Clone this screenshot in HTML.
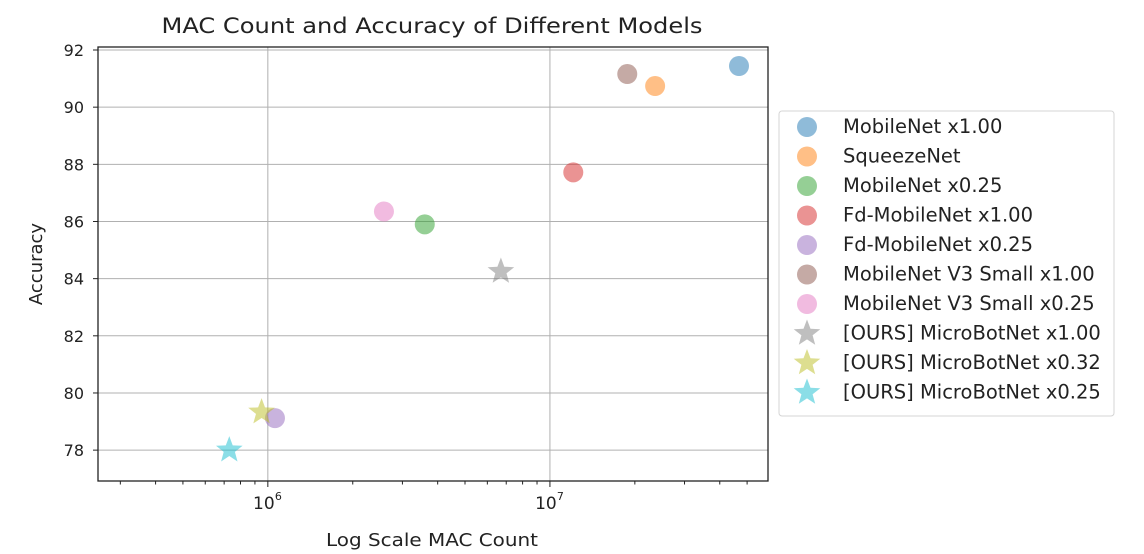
<!DOCTYPE html>
<html><head><meta charset="utf-8"><style>
body{margin:0;background:#fff;}
svg{display:block;font-family:"DejaVu Sans","Liberation Sans",sans-serif;}
</style></head><body>
<svg id="chart" width="1144" height="554">
<text x="432" y="33" font-size="21" textLength="541" lengthAdjust="spacingAndGlyphs" text-anchor="middle" fill="#222">MAC Count and Accuracy of Different Models</text>
<text x="432" y="546" font-size="18" textLength="212" lengthAdjust="spacingAndGlyphs" text-anchor="middle" fill="#222">Log Scale MAC Count</text>
<text transform="translate(42,264) rotate(-90)" font-size="18" text-anchor="middle" fill="#222">Accuracy</text>
<g id="grid"></g><g id="marks"></g><g id="axes"></g><g id="legend"></g>
</svg>
<script>
const names=["MobileNet x1.00","SqueezeNet","MobileNet x0.25","Fd-MobileNet x1.00","Fd-MobileNet x0.25","MobileNet V3 Small x1.00","MobileNet V3 Small x0.25","[OURS] MicroBotNet x1.00","[OURS] MicroBotNet x0.32","[OURS] MicroBotNet x0.25"];
const macs=[4.68e7,2.36e7,3.6e6,1.21e7,1.06e6,1.88e7,2.58e6,6.7e6,9.5e5,7.3e5];
const accuracy=[91.44,90.74,85.9,87.72,79.12,91.16,86.35,84.25,79.33,78.0];
const markers=["o","o","o","o","o","o","o","*","*","*"];
const colors=["#1f77b4","#ff7f0e","#2ca02c","#d62728","#9467bd","#8c564b","#e377c2","#7f7f7f","#bcbd22","#17becf"];
const yTicks=[78,80,82,84,86,88,90,92];
const xMajor=[1e6,1e7];
const xMajorLabels=[["10","6"],["10","7"]];

const L=98,R=768,T=47,B=481;
const xmin=Math.log10(2.5e5),xmax=Math.log10(5.93e7);
const ymin=76.92,ymax=92.105;
const X=v=>L+(Math.log10(v)-xmin)/(xmax-xmin)*(R-L);
const Y=v=>B-(v-ymin)/(ymax-ymin)*(B-T);
const NS="http://www.w3.org/2000/svg";
function mk(tag,attrs,parent){const e=document.createElementNS(NS,tag);for(const k in attrs)e.setAttribute(k,attrs[k]);parent.appendChild(e);return e;}
const grid=document.getElementById('grid'),axes=document.getElementById('axes'),marks=document.getElementById('marks'),leg=document.getElementById('legend');
function star(cx,cy,r){let p=[];for(let i=0;i<10;i++){const a=-Math.PI/2+i*Math.PI/5;const rr=i%2?r*0.42:r;p.push((cx+rr*Math.cos(a)).toFixed(1)+","+(cy+rr*Math.sin(a)).toFixed(1));}return p.join(" ");}
yTicks.forEach(t=>{const y=Y(t);
 const g=mk('line',{x1:L,x2:R,y1:y,y2:y,stroke:'#b0b0b0','stroke-width':1},grid);
 
 mk('line',{x1:L-5,x2:L,y1:y,y2:y,stroke:'#222','stroke-width':1},axes);
 const tx=mk('text',{x:L-14,y:y+6,'font-size':16,'text-anchor':'end',fill:'#222'},axes);tx.textContent=t;
 
});
xMajor.forEach((t,i)=>{const x=X(t);
 const g=mk('line',{x1:x,x2:x,y1:T,y2:B,stroke:'#b0b0b0','stroke-width':1},grid);
 
 mk('line',{x1:x,x2:x,y1:B,y2:B+6,stroke:'#222','stroke-width':1},axes);
 const tx=mk('text',{x:x-4,y:B+28,'font-size':17,'text-anchor':'middle',fill:'#222'},axes);
 tx.textContent=xMajorLabels[i][0];
 
 const sp=mk('text',{x:x+7,y:B+19,'font-size':11,fill:'#222'},axes);sp.textContent=xMajorLabels[i][1];
});
for(let d=5;d<=7;d++)for(let m=2;m<=9;m++){const v=m*Math.pow(10,d);const x=X(v);if(x<L||x>R)continue;mk('line',{x1:x,x2:x,y1:B,y2:B+3.5,stroke:'#222','stroke-width':1},axes);}
const fr=mk('rect',{x:L,y:T,width:R-L,height:B-T,fill:'none',stroke:'#222','stroke-width':1.3},axes);

macs.forEach((v,i)=>{const x=X(v),y=Y(accuracy[i]);let e;
 if(markers[i]==="o")e=mk('circle',{cx:x,cy:y,r:10,fill:colors[i],'fill-opacity':0.5},marks);
 else e=mk('polygon',{points:star(x,y,14),fill:colors[i],'fill-opacity':0.5},marks);
 
});
const lb=mk('rect',{x:779,y:111,width:335,height:305,rx:3,fill:'#fff',stroke:'#d5d5d5','stroke-width':1},leg);

names.forEach((n,i)=>{const y=127+i*29.5;
 if(markers[i]==="o")mk('circle',{cx:807,cy:y,r:10,fill:colors[i],'fill-opacity':0.5},leg);
 else mk('polygon',{points:star(807,y,14),fill:colors[i],'fill-opacity':0.5},leg);
 const t=mk('text',{x:843,y:y+6,'font-size':19.5,fill:'#222'},leg);t.textContent=n;
 
});
</script>
</body></html>
